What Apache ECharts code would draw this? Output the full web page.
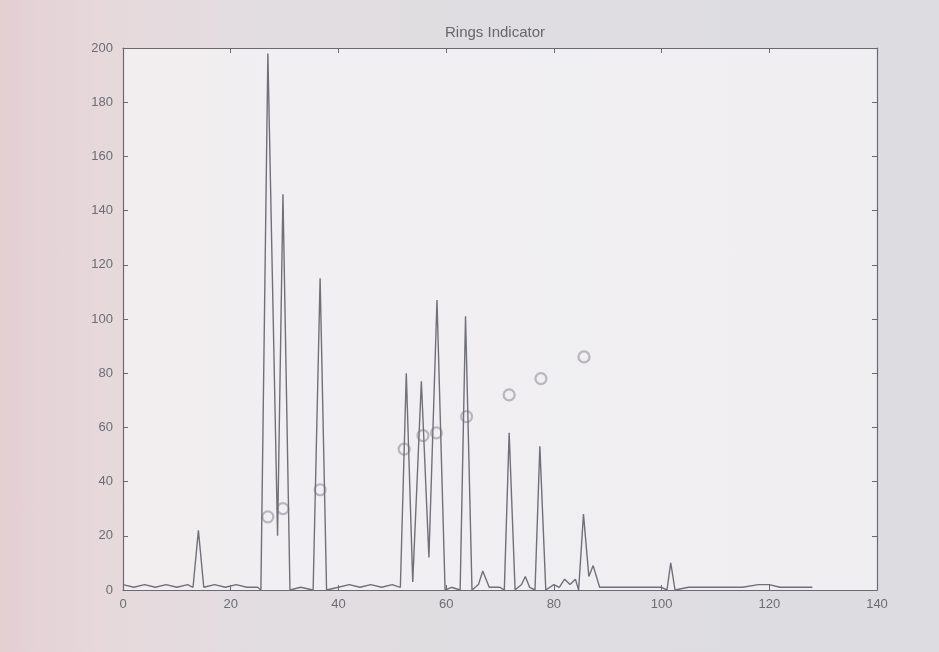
<!DOCTYPE html>
<html>
<head>
<meta charset="utf-8">
<title>Rings Indicator</title>
<script src="https://cdn.jsdelivr.net/npm/echarts@6/dist/echarts.min.js"></script>
<style>
  html, body { margin: 0; padding: 0; }
  body {
    width: 939px; height: 652px;
    background: linear-gradient(to right, #e4cfd3 0%, #e6d9dc 12%, #e1dde1 30%, #dcdce1 100%);
  }
  #chart { width: 939px; height: 652px; }
</style>
</head>
<body>
<div id="chart"></div>
<script>
// 指示曲线（横坐标、纵坐标）
var lineX = [0, 2, 4, 6, 8, 10, 12, 13, 14, 15, 17, 19, 21, 23, 25, 25.6, 26.9, 28.7, 29.7, 31,
  33, 35.3, 36.6, 37.8, 40, 42, 44, 46, 48, 50, 51.5, 52.6, 53.8, 55.4, 56.8, 58.3, 59.8, 61,
  62.6, 63.6, 64.8, 66, 66.8, 68, 70, 70.8, 71.7, 72.8, 74, 74.7, 75.5, 76.5, 77.4, 78.5, 80,
  81, 82, 83, 84, 84.6, 85.5, 86.5, 87.3, 88.5, 90, 95, 100, 101, 101.7, 102.5, 105, 110, 115,
  118, 120, 122, 125, 128];
var lineY = [2, 1, 2, 1, 2, 1, 2, 1, 22, 1, 2, 1, 2, 1, 1, 0, 198, 20, 146, 0,
  1, 0, 115, 0, 1, 2, 1, 2, 1, 2, 1, 80, 3, 77, 12, 107, 0, 1,
  0, 101, 0, 2, 7, 1, 1, 0, 58, 0, 2, 5, 1, 0, 53, 0, 2,
  1, 4, 2, 4, 0, 28, 5, 9, 1, 1, 1, 1, 0, 10, 0, 1, 1, 1,
  2, 2, 1, 1, 1];

// 圆环中心标记
var ringX = [26.9, 29.7, 36.6, 52.2, 55.7, 58.2, 63.8, 71.7, 77.6, 85.6];
var ringY = [27, 30, 37, 52, 57, 58, 64, 72, 78, 86];

// 坐标轴刻度
var xTicks = [0, 20, 40, 60, 80, 100, 120, 140];
var yTicks = [0, 20, 40, 60, 80, 100, 120, 140, 160, 180, 200];

function initChart() {
    var myChart = echarts.init(document.getElementById('chart'));

    var lineData = lineX.map(function (x, i) { return [x, lineY[i]]; });
    var ringData = ringX.map(function (x, i) { return [x, ringY[i]]; });

    var axisColor = '#6a6a70';
    var labelStyle = { color: '#6c6c72', fontSize: 13, fontFamily: 'Liberation Sans' };

    // 四边框线 + 内向刻度（仿 MATLAB 风格）
    function frameAxis(pos, ticks, showLabel, margin) {
        return {
            type: 'value',
            position: pos,
            min: ticks[0], max: ticks[ticks.length - 1], interval: 20,
            axisLine: { show: true, onZero: false, lineStyle: { color: axisColor, width: 1.2 } },
            axisTick: { show: true, inside: true, length: 5, lineStyle: { color: axisColor } },
            axisLabel: showLabel ? Object.assign({ margin: margin }, labelStyle) : { show: false },
            splitLine: { show: false }
        };
    }

    var option = {
        animation: false,
        backgroundColor: 'transparent',
        title: {
            text: 'Rings Indicator',
            left: 490,
            top: 20,
            textAlign: 'center',
            textStyle: { color: '#66666c', fontSize: 15, fontWeight: 'normal', fontFamily: 'Liberation Sans' }
        },
        grid: {
            left: 123, right: 62, top: 48, bottom: 62,
            show: true,
            backgroundColor: 'rgba(246,245,247,0.72)',
            borderWidth: 0
        },
        xAxis: [
            frameAxis('bottom', xTicks, true, 8),
            frameAxis('top', xTicks, false)
        ],
        yAxis: [
            frameAxis('left', yTicks, true, 10),
            frameAxis('right', yTicks, false)
        ],
        series: [{
            name: 'indicator',
            type: 'line',
            data: lineData,
            symbol: 'none',
            lineStyle: { color: '#707078', width: 1.4 }
        }, {
            name: 'rings',
            type: 'scatter',
            data: ringData,
            symbol: 'circle',
            symbolSize: 11,
            itemStyle: { color: 'transparent', borderColor: '#a9a8b0', borderWidth: 2.2 }
        }]
    };

    myChart.setOption(option);
}

window.addEventListener('load', initChart);
</script>
</body>
</html>
